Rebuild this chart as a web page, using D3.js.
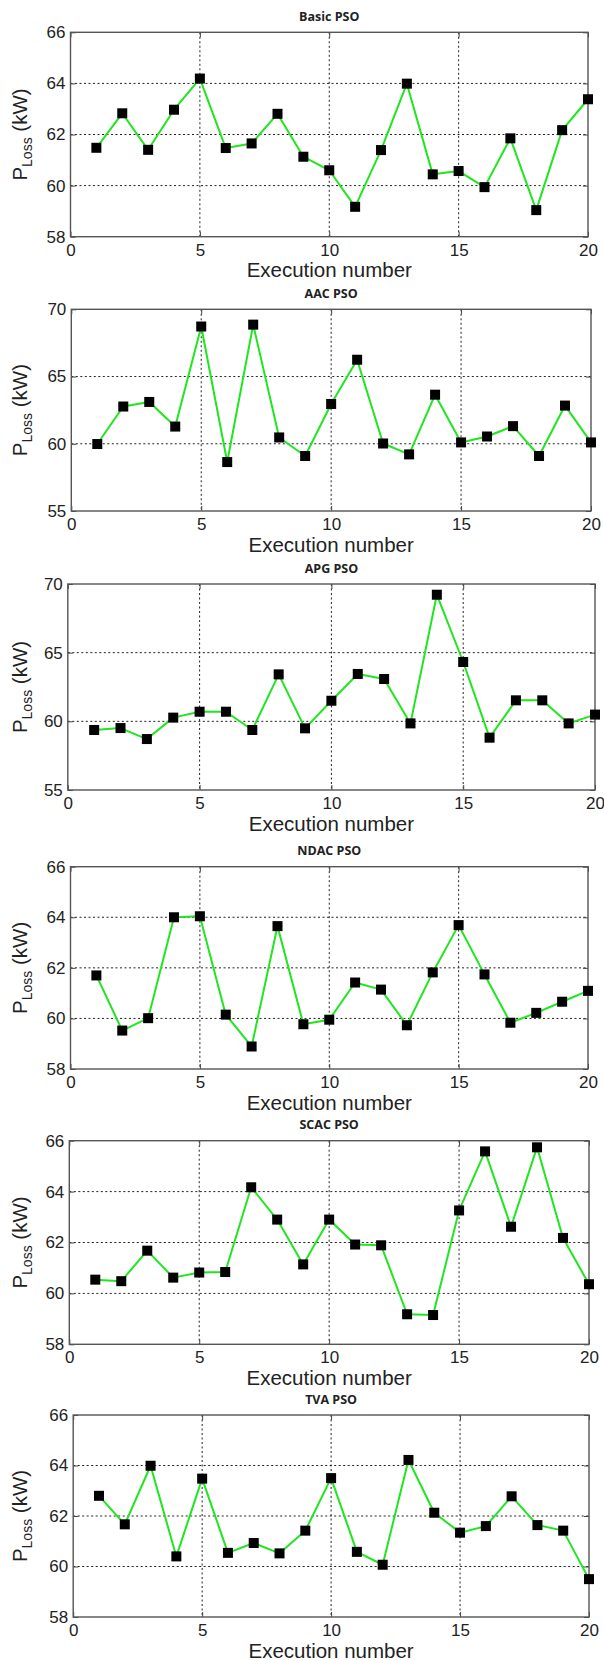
<!DOCTYPE html>
<html><head><meta charset="utf-8">
<script src="https://cdn.jsdelivr.net/npm/d3@7"></script>
<style>body{margin:0;background:#fff} svg{display:block}</style>
</head><body><svg id="c" width="604" height="1660"></svg>
<script>
// ---- data ----
const runs = d3.range(1, 21);
const titles = ["Basic PSO", "AAC PSO", "APG PSO", "NDAC PSO", "SCAC PSO", "TVA PSO"];
const basicPSO = [61.48,62.83,61.40,62.97,64.19,61.47,61.65,62.81,61.13,60.60,59.17,61.39,63.99,60.44,60.57,59.94,61.85,59.04,62.17,63.38];
const aacPSO   = [59.98,62.77,63.11,61.28,68.72,58.64,68.86,60.47,59.09,62.96,66.25,60.02,59.21,63.65,60.10,60.54,61.31,59.09,62.84,60.10];
const apgPSO   = [59.37,59.51,58.71,60.27,60.70,60.70,59.37,63.42,59.49,61.50,63.45,63.08,59.85,69.22,64.32,58.81,61.53,61.53,59.85,60.49];
const ndacPSO  = [61.70,59.52,60.01,64.00,64.04,60.15,58.89,63.65,59.77,59.95,61.42,61.14,59.73,61.82,63.69,61.74,59.83,60.22,60.66,61.09];
const scacPSO  = [60.54,60.48,61.68,60.62,60.82,60.84,64.17,62.90,61.14,62.90,61.92,61.89,59.18,59.15,63.26,65.58,62.62,65.74,62.18,60.36];
const tvaPSO   = [62.80,61.67,63.99,60.40,63.48,60.54,60.93,60.52,61.42,63.50,60.58,60.07,64.22,62.13,61.34,61.60,62.78,61.64,61.42,59.50];
const xTicks = [0, 5, 10, 15, 20];
const yTicksA = [58, 60, 62, 64, 66];
const yTicksB = [55, 60, 65, 70];
const xLabel = "Execution number";

// ---- layout (pixel boxes of each panel) ----
const layout = [
  {l:70.5, r:588, t:32.3,   b:236.7},
  {l:71.3, r:591, t:309.3,  b:511},
  {l:67.8, r:595, t:584,    b:790},
  {l:70.5, r:588, t:866.7,  b:1069},
  {l:69.3, r:589, t:1140.7, b:1344.3},
  {l:73.2, r:589, t:1415,   b:1617}
];
const series = [basicPSO, aacPSO, apgPSO, ndacPSO, scacPSO, tvaPSO];
const yTickSets = [yTicksA, yTicksB, yTicksB, yTicksA, yTicksA, yTicksA];

const svg = d3.select("#c");
const FONT = "'Liberation Sans', Arial, sans-serif";
const GREEN = "#1fe61f";

series.forEach((vals, i) => {
  const L = layout[i];
  const yt = yTickSets[i];
  const x = d3.scaleLinear().domain([0, 20]).range([L.l, L.r]);
  const y = d3.scaleLinear().domain([yt[0], yt[yt.length - 1]]).range([L.b, L.t]);
  const g = svg.append("g");

  // grid
  g.append("g").selectAll("line.vx").data(xTicks.slice(1, -1)).join("line")
    .attr("x1", d => x(d)).attr("x2", d => x(d)).attr("y1", L.t).attr("y2", L.b)
    .attr("stroke", "#222").attr("stroke-width", 1).attr("stroke-dasharray", "2,2.5");
  g.append("g").selectAll("line.hy").data(yt.slice(1, -1)).join("line")
    .attr("x1", L.l).attr("x2", L.r).attr("y1", d => y(d)).attr("y2", d => y(d))
    .attr("stroke", "#222").attr("stroke-width", 1).attr("stroke-dasharray", "2,2.5");

  // axes
  const styleAxis = sel => {
    sel.select(".domain").remove();
    sel.selectAll(".tick line").attr("stroke", "#444");
    sel.selectAll("text").attr("font-family", FONT).attr("font-size", 17).attr("fill", "#222");
  };
  g.append("g").attr("transform", `translate(${L.l},0)`)
    .call(d3.axisLeft(y).tickValues(yt).tickSizeInner(-5).tickSizeOuter(0).tickPadding(5).tickFormat(d3.format("d")))
    .call(styleAxis);
  g.append("g").attr("transform", `translate(0,${L.b})`)
    .call(d3.axisBottom(x).tickValues(xTicks).tickSizeInner(-5).tickSizeOuter(0).tickPadding(7).tickFormat(d3.format("d")))
    .call(styleAxis);
  g.append("g").attr("transform", `translate(${L.r},0)`)
    .call(d3.axisRight(y).tickValues(yt).tickSizeInner(-5).tickSizeOuter(0).tickFormat(""))
    .call(styleAxis);
  g.append("g").attr("transform", `translate(0,${L.t})`)
    .call(d3.axisTop(x).tickValues(xTicks).tickSizeInner(-5).tickSizeOuter(0).tickFormat(""))
    .call(styleAxis);

  // box
  g.append("rect").attr("x", L.l).attr("y", L.t).attr("width", L.r - L.l).attr("height", L.b - L.t)
    .attr("fill", "none").attr("stroke", "#555").attr("stroke-width", 1.4);

  // line
  const line = d3.line().x((d, j) => x(runs[j])).y(d => y(d));
  g.append("path").datum(vals).attr("d", line).attr("fill", "none")
    .attr("stroke", GREEN).attr("stroke-width", 2).attr("stroke-linejoin", "round");

  // markers
  const ms = 10;
  g.append("g").selectAll("rect").data(vals).join("rect")
    .attr("x", (d, j) => x(runs[j]) - ms / 2).attr("y", d => y(d) - ms / 2)
    .attr("width", ms).attr("height", ms).attr("fill", "#000");

  const cx = (L.l + L.r) / 2;
  // title
  g.append("text").attr("x", cx).attr("y", L.t - 11.5).attr("text-anchor", "middle")
    .attr("font-family", "'Open Sans', sans-serif").attr("font-weight", "bold")
    .attr("font-size", 12.5).attr("fill", "#222").text(titles[i]);
  // x label
  g.append("text").attr("x", cx).attr("y", L.b + 40.5).attr("text-anchor", "middle")
    .attr("font-family", FONT).attr("font-size", 20.5).attr("fill", "#222").text(xLabel);
  // y label
  const yl = g.append("text").attr("transform", `translate(27,${(L.t + L.b) / 2}) rotate(-90)`)
    .attr("text-anchor", "middle").attr("font-family", FONT).attr("fill", "#222");
  yl.append("tspan").attr("font-size", 20.5).text("P");
  yl.append("tspan").attr("font-size", 14).attr("dy", 5).text("Loss");
  yl.append("tspan").attr("font-size", 20.5).attr("dy", -5).text(" (kW)");
});
</script>
</body></html>
